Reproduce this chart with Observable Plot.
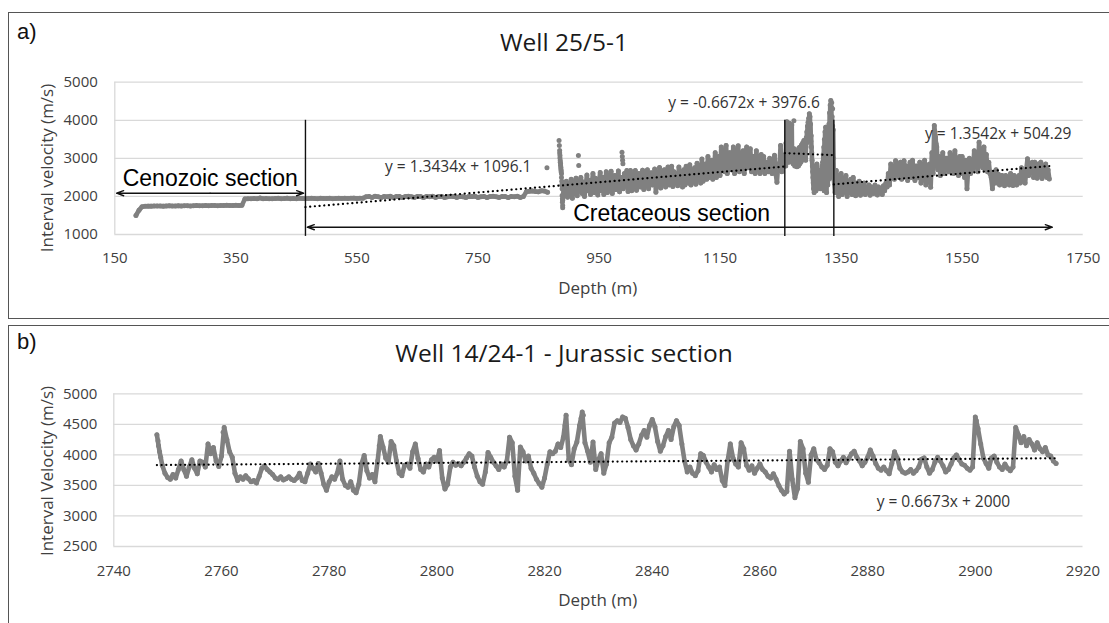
<!DOCTYPE html>
<html><head><meta charset="utf-8">
<script src="https://cdn.jsdelivr.net/npm/d3@7"></script>
<script src="https://cdn.jsdelivr.net/npm/@observablehq/plot@0.6"></script>
<style>
html,body{margin:0;padding:0;background:#fff;}
body{width:1109px;height:623px;overflow:hidden;position:relative;font-family:"Open Sans",sans-serif;}
.svgwrap{position:absolute;left:0;}
.box{position:absolute;border:1.5px solid #555;box-sizing:border-box;pointer-events:none;}
.t{position:absolute;white-space:nowrap;line-height:1;transform:translateY(-50%);}
.c{position:absolute;white-space:nowrap;line-height:1;transform:translate(-50%,-50%);}
.r{position:absolute;white-space:nowrap;line-height:1;transform:translate(-50%,-50%) rotate(-90deg);}
.tag{font-family:"Liberation Sans",Arial,sans-serif;font-size:22px;color:#111;}
.title{font-size:24.5px;color:#1a1a1a;}
.axt{font-size:17px;color:#404040;}
.sec{font-family:"Liberation Sans",Arial,sans-serif;font-size:23px;color:#000;}
.eq{font-size:15.5px;color:#333;}
</style></head><body>
<div id="pa" class="svgwrap" style="top:0"></div>
<div id="pb" class="svgwrap" style="top:320px"></div>

<div class="box" style="left:8px;top:12px;width:1130px;height:307px"></div>
<div class="box" style="left:8px;top:324.5px;width:1130px;height:330px"></div>

<div class="t tag" style="left:17px;top:31.7px">a)</div>
<div class="c title" style="left:564px;top:41.7px">Well 25/5-1</div>
<div class="r axt" style="left:45.7px;top:167.5px">Interval velocity (m/s)</div>
<div class="c axt" style="left:597.7px;top:286.7px">Depth (m)</div>
<div class="t sec" style="left:122.7px;top:178.3px">Cenozoic section</div>
<div class="t sec" style="left:573.2px;top:213.3px">Cretaceous section</div>
<div class="t eq" style="left:385px;top:166.7px">y = 1.3434x + 1096.1</div>
<div class="t eq" style="left:668.3px;top:103.3px">y = -0.6672x + 3976.6</div>
<div class="t eq" style="left:925px;top:133.5px">y = 1.3542x + 504.29</div>

<div class="t tag" style="left:17px;top:341.7px">b)</div>
<div class="c title" style="left:564px;top:353.3px">Well 14/24-1 - Jurassic section</div>
<div class="r axt" style="left:45.7px;top:470.5px">Interval Velocity (m/s)</div>
<div class="c axt" style="left:597.7px;top:599px">Depth (m)</div>
<div class="t eq" style="left:876.7px;top:501.7px">y = 0.6673x + 2000</div>

<script>
// ================= Well 25/5-1 =================
const wellA_xTicks = [150, 350, 550, 750, 950, 1150, 1350, 1550, 1750];
const wellA_yTicks = [1000, 2000, 3000, 4000, 5000];

// log segments: first depth (m), sample interval (m), interval velocities (m/s)
const wellA_shallowStart = 185, wellA_shallowStep = 5;
const wellA_shallowVelocity = [
  1500, 1640, 1730,
  // 200-360
  1740, 1745, 1745, 1750, 1750, 1750, 1745, 1750, 1755, 1750,
  1750, 1755, 1750, 1755, 1755, 1750, 1755, 1760, 1755, 1755,
  1760, 1755, 1760, 1760, 1755, 1760, 1760, 1765, 1760, 1760,
  1765, 1760, 1765,
  // 365-560
  1935, 1940, 1940, 1945, 1940, 1960, 1940, 1945, 1940, 1940,
  1945, 1950, 1940, 1945, 1955, 1940, 1945, 1940, 1950, 1945,
  1940, 1945, 1950, 1945, 1940, 1950, 1945, 1945, 1950, 1940,
  1945, 1950, 1945, 1950, 1945, 1950, 1955, 1945, 1950, 1955,
  // 565-825
  1990, 2000, 1975, 2005, 1990, 1970, 2000, 1990, 2005, 1975,
  1995, 2000, 1970, 1995, 2005, 1990, 1975, 2000, 1995, 1970,
  2000, 1990, 2005, 1975, 1995, 2000, 1970, 1990, 2005, 1995,
  1975, 2000, 1990, 1970, 2000, 1995, 2005, 1975, 1990, 2000,
  1970, 1995, 2005, 1990, 1975, 2000, 1995, 1970, 2000, 1990,
  2005, 1975, 1995,
  // 830-865
  2120, 2135, 2145, 2130, 2120, 2150, 2140, 2110
];

const wellA_cretAStart = 890, wellA_cretAStep = 2;
const wellA_cretAVelocity = [
  1900, 2300, 2100, 2400, 1980,   // 890
  2250, 2050, 2450, 1950, 2350,   // 900
  2150, 2480, 2020, 2300, 2200,   // 910
  2500, 2080, 2380, 2000, 2250,   // 920
  2560, 2150, 2420, 2050, 2300,   // 930
  2600, 2100, 2480, 2250, 2040,   // 940
  2380, 2630, 2150, 2500, 2050,   // 950
  2300, 2650, 2100, 2450, 2200,   // 960
  2660, 2080, 2400, 2550, 2180,   // 970
  2300, 2670, 2120, 2500, 2450,   // 980
  2200, 2600, 2350, 2680, 2130,   // 990
  2450, 2680, 2150, 2550, 2300,   // 1000
  2680, 2160, 2480, 2600, 2250,   // 1010
  2400, 2690, 2180, 2550, 2300,   // 1020
  2700, 2200, 2500, 2620, 2300,   // 1030
  2450, 2720, 2110, 2600, 2350,   // 1040
  2760, 2220, 2550, 2350, 2700,   // 1050
  2250, 2600, 2770, 2300, 2500,   // 1060
  2790, 2260, 2650, 2400, 2550,   // 1070
  2280, 2770, 2450, 2600, 2250,   // 1080
  2700, 2300, 2790, 2500, 2350,   // 1090
  2830, 2300, 2600, 2450, 2750,   // 1100
  2320, 2870, 2550, 2700, 2350,   // 1110
  2980, 2400, 2700, 2850, 2450,   // 1120
  3050, 2500, 2800, 2950, 2450,   // 1130
  2700, 3150, 2500, 2900, 3050,   // 1140
  2550, 3300, 2800, 3000, 2650,   // 1150
  3340, 2600, 2950, 3150, 2700,   // 1160
  2900, 3300, 2600, 3100, 2800,   // 1170
  3330, 2650, 3000, 2850, 3200,   // 1180
  2600, 3100, 3300, 2750, 2950,   // 1190
  3250, 2650, 2900, 3050, 2600,   // 1200
  3200, 2750, 2950, 2600, 3100,   // 1210
  2700, 3050, 2600, 2900, 2800,   // 1220
  2650, 3000, 2800, 2600, 2900,   // 1230
  3080, 2600, 2370, 2850, 2700,   // 1240
  3340, 2650, 3000, 2800          // 1250
];

const wellA_midStart = 1258, wellA_midStep = 0.5;
const wellA_midVelocity = [
  3100, 2800, 3400, 2950, 3250, 3960, 3600, 3300,   // 1258-1261
  3050, 3450, 3150, 2900, 3350, 3920, 3200, 3000,   // 1262-1265
  3150, 3300, 2950, 3100, 3250, 3880, 3050, 2900,   // 1266-1269
  3100, 3200, 2850, 3000, 3150, 3250, 2900, 2800,   // 1270-1273
  3050, 3200, 2950, 2850, 3000, 3100, 2780, 2900,   // 1274-1277
  3050, 3200, 2950, 2800, 3100, 3280, 3000, 2850,   // 1278-1281
  3150, 3300, 3050, 2900, 3200, 3350, 3100, 2950,   // 1282-1285
  3250, 3400, 3150, 3000, 3300, 3470, 3200, 3050,   // 1286-1289
  3350, 3450, 3150, 2950, 3300, 3550, 3400, 3700,   // 1290-1293
  3550, 3850, 3650, 3950, 3750, 4050, 3850, 4170,   // 1294-1297
  3950, 4100, 3700, 3900, 3450, 3600, 3300, 3150,   // 1298-1301
  2950, 2800, 2650, 2500, 2350, 2200, 2400, 2100,   // 1302-1305
  2300, 2550, 2250, 2700, 2450, 2150, 2600, 2350,   // 1306-1309
  2850, 2500, 2700, 2400, 2600, 2300, 2550, 2250,   // 1310-1313
  2450, 2650, 2350, 2200, 2500, 2700, 2400, 2600,   // 1314-1317
  2300, 2800, 2550, 2900, 2200, 3100, 2400, 3300,   // 1318-1321
  2150, 3500, 2600, 3700, 2350, 3820, 2800, 3600,   // 1322-1325
  2100, 3400, 2500, 3200, 2300, 3000, 2700, 2450,   // 1326-1329
  3900, 2600, 4200, 2850, 4400, 3100, 4520, 3350,   // 1330-1333
  4350, 2700, 4100, 3550, 3850, 2500, 3750, 3000    // 1334-1337
];

const wellA_cretBStart = 1338, wellA_cretBStep = 2;
const wellA_cretBVelocity = [
  2450, 2100, 2680, 2250, 2000,   // 1338
  2400, 2600, 2050, 2300, 2150,   // 1348
  2550, 2000, 2350, 2100, 2450,   // 1358
  2050, 2500, 2200, 2020, 2350,   // 1368
  2150, 2400, 2030, 2250, 2100,   // 1378
  2350, 2050, 2200, 2100, 2300,   // 1388
  2030, 2250, 2150, 2080, 2300,   // 1398
  2200, 2040, 2250, 2100, 2180,   // 1408
  2050, 2280, 2150, 2350, 2250,   // 1418
  2600, 2300, 2850, 2500, 2700,   // 1428
  2450, 2940, 2600, 2800, 2500,   // 1438
  2900, 2450, 2700, 2940, 2550,   // 1448
  2800, 2420, 2650, 2900, 2500,   // 1458
  2950, 2600, 2420, 2800, 2700,   // 1468
  2500, 2900, 2350, 2750, 2600,   // 1478
  2950, 2300, 2700, 2500, 2850,   // 1488
  2240, 3150, 2600, 3860, 3500,   // 1498
  3300, 2700, 3050, 2550, 2900,   // 1508
  3150, 2600, 2850, 3000, 2700,   // 1518
  2650, 3150, 2800, 2950, 2600,   // 1528
  3200, 2700, 2900, 2550, 3050,   // 1538
  2600, 3050, 2800, 2500, 2950,   // 1548
  2200, 2750, 3000, 2600, 2850,   // 1558
  2700, 3200, 2900, 3050, 2650,   // 1568
  3425, 2900, 3200, 2750, 3300,   // 1578
  2700, 3100, 2650, 2900, 2600,   // 1588
  2500, 2200, 2600, 2350, 2700,   // 1598
  2350, 2580, 2300, 2450, 2550,   // 1608
  2400, 2280, 2550, 2350, 2500,   // 1618
  2300, 2600, 2450, 2290, 2550,   // 1628
  2500, 2300, 2450, 2550, 2350,   // 1638
  2750, 2400, 2600, 2350, 2700,   // 1648
  2987, 2550, 2800, 2650, 2900,   // 1658
  2500, 2900, 2700, 2480, 2850,   // 1668
  2600, 2900, 2470, 2750, 2550,   // 1678
  2850, 2500, 2700, 2460          // 1688
];

// isolated readings (spikes and scattered dots)
const wellA_extraDepth = [864, 884, 884.5, 885, 885, 885.5, 885.5, 886, 886, 886.5, 886.5, 887, 887, 887.5, 887.5, 888, 888, 888.5, 888.5, 889, 889, 889.5, 889.5, 890, 890,
  916, 916.5, 988, 988.5, 989, 989.5, 1272, 1334.5, 1336, 1505, 1506, 1507];
const wellA_extraVelocity = [2752, 3469, 3340, 3206, 3140, 3075, 3010, 2943, 2900, 2856, 2810, 2768, 2720, 2681, 2640, 2593, 2500, 2400, 2300, 2200, 2024, 1937, 1849, 1762, 1700,
  3075, 2812, 3160, 3050, 2950, 2860, 3990, 4460, 4300, 3700, 3560, 3380];

const wellA_boundaries = [465, 1257, 1338];
const wellA_trends = [
  {from: 465, to: 1257, slope: 1.3434, intercept: 1096.1},
  {from: 1257, to: 1338, slope: -0.6672, intercept: 3976.6},
  {from: 1338, to: 1694, slope: 1.3542, intercept: 504.29}
];
const wellA_sections = [
  {name: "Cenozoic section", from: 153, to: 462, velocity: 2085},
  {name: "Cretaceous section", from: 468, to: 1699, velocity: 1192}
];

// ================= Well 14/24-1 =================
const wellB_xTicks = [2740, 2760, 2780, 2800, 2820, 2840, 2860, 2880, 2900, 2920];
const wellB_yTicks = [2500, 3000, 3500, 4000, 4500, 5000];
const wellB_start = 2748, wellB_step = 0.5;
const wellB_velocity = [
  4330, 4050, 3830, 3700, 3630, 3600, 3680, 3620, 3760, 3900, // 2748-2752
  3760, 3650, 3800, 3920, 3780, 3690, 3900, 3880, 3800, 4180, // 2753-2757
  4020, 4120, 3900, 3810, 3980, 4450, 4250, 4050, 3960, 3700, // 2758-2762
  3580, 3640, 3600, 3660, 3610, 3560, 3580, 3540, 3650, 3780, // 2763-2767
  3820, 3760, 3720, 3680, 3620, 3600, 3640, 3590, 3610, 3640, // 2768-2772
  3600, 3580, 3620, 3700, 3580, 3560, 3700, 3850, 3780, 3720, // 2773-2777
  3860, 3700, 3520, 3420, 3560, 3640, 3600, 3700, 3900, 3600, // 2778-2782
  3500, 3470, 3560, 3420, 3380, 3520, 3850, 3990, 3740, 3620, // 2783-2787
  3680, 3560, 3900, 4300, 4130, 3950, 3880, 4220, 4150, 3900, // 2788-2792
  3700, 3660, 3830, 3850, 3780, 4050, 4180, 3940, 3760, 3720, // 2793-2797
  3850, 3800, 3920, 3960, 3900, 4070, 3620, 3440, 3520, 3800, // 2798-2802
  3880, 3830, 3860, 3820, 3880, 3950, 4020, 3980, 3800, 3650, // 2803-2807
  3560, 3520, 3720, 4040, 3960, 3880, 3820, 3760, 3850, 3800, // 2808-2812
  3900, 4290, 4200, 3650, 3420, 4130, 4050, 3900, 3980, 3780, // 2813-2817
  3700, 3600, 3530, 3470, 3620, 3850, 4050, 4020, 4060, 4180, // 2818-2822
  4120, 4290, 4650, 3920, 3840, 4100, 4210, 4480, 4700, 4200, // 2823-2827
  4060, 3880, 4210, 3760, 3920, 4020, 3700, 3850, 4200, 4290, // 2828-2832
  4520, 4560, 4530, 4620, 4600, 4450, 4250, 4150, 4080, 4180, // 2833-2837
  4320, 4400, 4290, 4480, 4580, 4460, 4220, 4060, 4150, 4300, // 2838-2842
  4400, 4250, 4460, 4560, 4480, 4180, 3900, 3720, 3800, 3700, // 2843-2847
  3660, 3740, 4020, 3990, 3880, 3800, 3720, 3840, 3760, 3800, // 2848-2852
  3580, 3500, 3900, 4180, 3950, 3850, 3800, 4200, 4100, 3830, // 2853-2857
  3750, 3820, 3700, 3780, 3850, 3760, 3720, 3650, 3620, 3690, // 2858-2862
  3600, 3500, 3420, 3360, 3400, 4060, 3600, 3300, 3450, 4220, // 2863-2867
  4100, 3700, 3550, 4000, 4100, 3920, 3870, 3800, 3760, 3830, // 2868-2872
  4100, 4050, 3880, 3820, 3900, 3960, 3870, 3940, 4020, 4060, // 2873-2877
  3960, 3900, 3820, 3880, 3960, 4080, 3980, 3860, 3780, 3750, // 2878-2882
  3800, 3740, 3690, 3860, 4050, 3950, 3780, 3720, 3700, 3720, // 2883-2887
  3760, 3700, 3740, 3800, 3930, 3950, 3800, 3700, 3760, 3880, // 2888-2892
  3960, 3900, 3820, 3720, 3760, 3850, 3950, 4000, 3920, 3850, // 2893-2897
  3830, 3780, 3750, 3800, 4620, 4430, 4180, 3950, 3860, 3780, // 2898-2902
  3950, 3980, 3880, 3800, 3760, 3850, 3780, 3740, 3800, 4450, // 2903-2907
  4330, 4200, 4300, 4150, 4250, 4180, 4080, 4200, 4100, 4050, // 2908-2912
  4120, 4000, 3980, 3900, 3860                                // 2913-2915
];
const wellB_extraDepth = [2748.2, 2748.3, 2748.7, 2760.3, 2760.7, 2789.3, 2813.7, 2823.8, 2826.8, 2827.2, 2900.2, 2907.7];
const wellB_extraVelocity = [4230, 4150, 3960, 4370, 4300, 4150, 4120, 4480, 4600, 4650, 4560, 4380];
const wellB_trends = [{from: 2748, to: 2915, slope: 0.6673, intercept: 2000}];

// ---------- build tables ----------
const seg = (start, step, vals, run) => vals.map((v, i) => ({run, depth: +(start + i * step).toFixed(2), velocity: v}));
const pairs = (ds, vs) => ds.map((d, i) => ({run: "extra", depth: d, velocity: vs[i]}));
const trendPts = (trends) => trends.map((t, k) => [t.from, t.to].map(d => ({k, depth: d, velocity: t.slope * d + t.intercept}))).flat();

const logA = [
  ...seg(wellA_shallowStart, wellA_shallowStep, wellA_shallowVelocity, "upper"),
  ...seg(wellA_cretAStart, wellA_cretAStep, wellA_cretAVelocity, "lower"),
  ...seg(wellA_midStart, wellA_midStep, wellA_midVelocity, "lower"),
  ...seg(wellA_cretBStart, wellA_cretBStep, wellA_cretBVelocity, "lower")
];
const extraA = pairs(wellA_extraDepth, wellA_extraVelocity);
const logB = seg(wellB_start, wellB_step, wellB_velocity, "b");
const extraB = pairs(wellB_extraDepth, wellB_extraVelocity);

const arrowsA = wellA_sections.flatMap(s => {
  const m = (s.from + s.to) / 2;
  return [{x1: m, x2: s.from, y: s.velocity}, {x1: m, x2: s.to, y: s.velocity}];
});

const GREY = "#808080";
const gridStyle = {stroke: "#d9d9d9", strokeWidth: 1.3};
const dotStyle = {x: "depth", y: "velocity", r: 2.5, fill: GREY};
// dense log samples: consecutive readings merge into a continuous trace
const traceStyle = {x: "depth", y: "velocity", z: "run", stroke: GREY, strokeWidth: 4.6, strokeLinejoin: "round", strokeLinecap: "round"};
const trendStyle = {x: "depth", y: "velocity", z: "k", stroke: "#000", strokeWidth: 2.2, strokeDasharray: "0.1 4.6", strokeLinecap: "round"};
const baseStyle = {fontFamily: '"Open Sans", sans-serif', fontSize: "15px", color: "#404040", background: "transparent", overflow: "visible"};

const plotA = Plot.plot({
  width: 1109, height: 320,
  marginLeft: 114.3, marginRight: 26.3, marginTop: 81.7, marginBottom: 86,
  style: baseStyle,
  x: {domain: [150, 1750], ticks: wellA_xTicks, tickSize: 0, tickPadding: 18.3, tickFormat: d3.format("d"), label: null},
  y: {domain: [1000, 5000], ticks: wellA_yTicks, tickSize: 0, tickPadding: 17, tickFormat: d3.format("d"), label: null},
  marks: [
    Plot.ruleY(wellA_yTicks, gridStyle),
    Plot.ruleX([150], gridStyle),
    Plot.line(logA, traceStyle),
    Plot.dot(logA, dotStyle),
    Plot.dot(extraA, dotStyle),
    Plot.ruleX(wellA_boundaries, {y1: 4000, y2: 950, stroke: "#111", strokeWidth: 1.4}),
    Plot.arrow(arrowsA, {x1: "x1", x2: "x2", y1: "y", y2: "y", stroke: "#111", strokeWidth: 1.4, headLength: 8, headAngle: 40}),
    Plot.line(trendPts(wellA_trends), trendStyle)
  ]
});
document.getElementById("pa").append(plotA);

const plotB = Plot.plot({
  width: 1109, height: 303,
  marginLeft: 113.3, marginRight: 26.5, marginTop: 73.3, marginBottom: 77,
  style: baseStyle,
  x: {domain: [2740, 2920], ticks: wellB_xTicks, tickSize: 0, tickPadding: 18.6, tickFormat: d3.format("d"), label: null},
  y: {domain: [2500, 5000], ticks: wellB_yTicks, tickSize: 0, tickPadding: 16.5, tickFormat: d3.format("d"), label: null},
  marks: [
    Plot.ruleY(wellB_yTicks, gridStyle),
    Plot.ruleX([2740], gridStyle),
    Plot.line(logB, traceStyle),
    Plot.dot(logB, dotStyle),
    Plot.dot(extraB, dotStyle),
    Plot.line(trendPts(wellB_trends), trendStyle)
  ]
});
document.getElementById("pb").append(plotB);
</script>
</body></html>
